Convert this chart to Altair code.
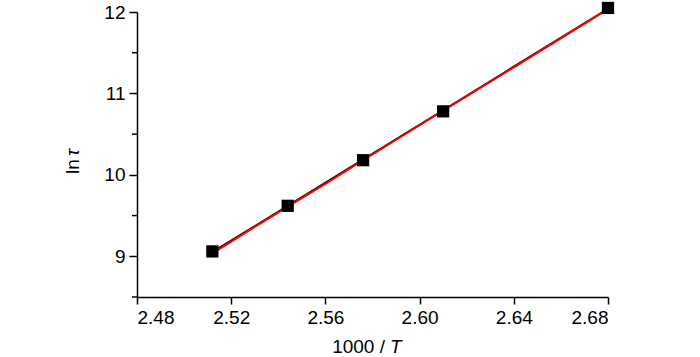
import altair as alt
import pandas as pd

# data
inv_T = [2.512, 2.544, 2.576, 2.610, 2.680]
ln_tau = [9.06, 9.62, 10.18, 10.78, 12.05]

fit_x = [2.512, 2.680]
fit_y = [9.05, 12.04]

red_x = [2.5122, 2.530, 2.544, 2.560, 2.576, 2.595, 2.610, 2.640, 2.6797]
red_y = [9.04, 9.36, 9.61, 9.89, 10.18, 10.52, 10.79, 11.32, 12.03]

x_ticks = [2.48, 2.52, 2.56, 2.60, 2.64, 2.68]
y_ticks = [9, 10, 11, 12]
y_minor = [8.5, 9.5, 10.5, 11.5]

FONT = "Liberation Sans"
W, H = 471, 285

pts = pd.DataFrame({"x": inv_T, "y": ln_tau})
fit = pd.DataFrame({"x": fit_x, "y": fit_y})
red = pd.DataFrame({"x": red_x, "y": red_y})
minor = pd.DataFrame({"y": y_minor})

xs = alt.Scale(domain=[2.48, 2.68], nice=False, zero=False)
ys = alt.Scale(domain=[8.5, 12], nice=False, zero=False)

xaxis = alt.Axis(values=x_ticks, format=".2f", title=None, grid=False,
                 tickSize=7, tickWidth=1.5, domainWidth=1.5, domainColor="black",
                 tickColor="black", labelFont=FONT, labelFontSize=19,
                 labelColor="black", labelPadding=4)
yaxis = alt.Axis(values=y_ticks, format="d", title=None, grid=False,
                 tickSize=8, tickWidth=1.5, domainWidth=1.5, domainColor="black",
                 tickColor="black", labelFont=FONT, labelFontSize=19,
                 labelColor="black", labelPadding=4)

base_pts = alt.Chart(pts).mark_square(size=150, color="black", opacity=1).encode(
    x=alt.X("x:Q", scale=xs, axis=xaxis),
    y=alt.Y("y:Q", scale=ys, axis=yaxis),
)

fit_line = alt.Chart(fit).mark_line(color="black", strokeWidth=2).encode(
    x=alt.X("x:Q", scale=xs, axis=xaxis), y=alt.Y("y:Q", scale=ys, axis=yaxis)
)

red_line = alt.Chart(red).mark_line(color="#ff0000", strokeWidth=2).encode(
    x=alt.X("x:Q", scale=xs, axis=xaxis), y=alt.Y("y:Q", scale=ys, axis=yaxis)
)

minor_ticks = alt.Chart(minor).mark_rule(color="black", strokeWidth=1.5).encode(
    x=alt.value(-5), x2=alt.value(0), y=alt.Y("y:Q", scale=ys, axis=yaxis)
)

title_df = pd.DataFrame({"a": [0]})
xt1 = alt.Chart(title_df).mark_text(text="1000 /", font=FONT, fontSize=19,
                                    align="right", baseline="alphabetic",
                                    color="black").encode(
    x=alt.value(248), y=alt.value(341))
xt2 = alt.Chart(title_df).mark_text(text="T", font=FONT, fontSize=19, fontStyle="italic",
                                    align="left", baseline="alphabetic",
                                    color="black").encode(
    x=alt.value(253), y=alt.value(341))
yt1 = alt.Chart(title_df).mark_text(text="ln", font=FONT, fontSize=19, angle=270,
                                    align="left", baseline="alphabetic",
                                    color="black").encode(
    x=alt.value(-58), y=alt.value(162))
yt2 = alt.Chart(title_df).mark_text(text="τ", font=FONT, fontSize=19, fontStyle="italic",
                                    angle=270, align="left", baseline="alphabetic",
                                    color="black").encode(
    x=alt.value(-58), y=alt.value(144))

chart = alt.layer(fit_line, red_line, base_pts, minor_ticks, xt1, xt2, yt1, yt2).properties(
    width=W, height=H,
    background="white",
    autosize=alt.AutoSizeParams(type="none"),
    padding={"left": 137, "top": 12, "right": 92, "bottom": 60},
).configure_view(stroke="transparent", strokeWidth=0).configure_axis(grid=False)

chart.save("out.html", embed_options={"renderer": "svg", "actions": False})
